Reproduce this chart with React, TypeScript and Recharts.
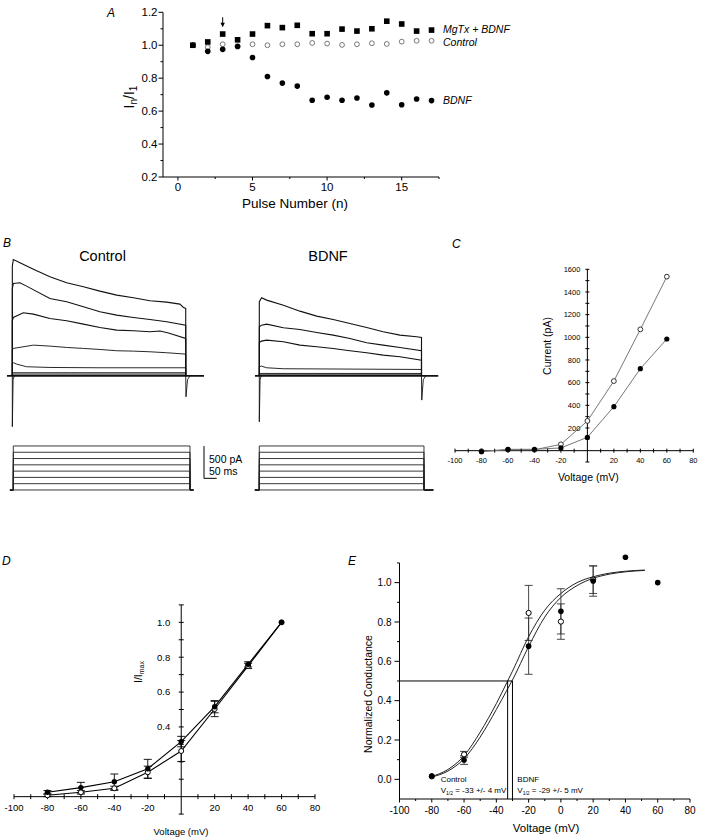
import React from 'react'
import { ComposedChart, Line, Scatter, XAxis, YAxis, ErrorBar, ReferenceLine } from 'recharts'

const FONT = '"Liberation Sans", Arial, Helvetica, sans-serif'

// ---- Panel A: normalised current per pulse ----
const pulses = [1, 2, 3, 4, 5, 6, 7, 8, 9, 10, 11, 12, 13, 14, 15, 16, 17]
const mgtxA = [1.0, 1.02, 1.068, 1.033, 1.068, 1.119, 1.107, 1.121, 1.07, 1.07, 1.098, 1.086, 1.1, 1.146, 1.129, 1.086, 1.092]
const controlA = [1.0, 0.988, 1.006, 0.995, 1.006, 1.0, 1.006, 1.006, 1.014, 1.01, 1.002, 1.006, 1.012, 1.008, 1.022, 1.027, 1.027]
const bdnfA = [1.0, 0.963, 0.975, 0.992, 0.926, 0.81, 0.77, 0.752, 0.666, 0.684, 0.666, 0.68, 0.637, 0.711, 0.639, 0.674, 0.664]
const arrowA = { x: 3, y: 1.109 }
const aXMajor = [0, 5, 10, 15]
const aXMinor = [2.5, 7.5, 12.5, 17.5]
const aYMajor = [0.2, 0.4, 0.6, 0.8, 1.0, 1.2]
const aYMinor = [0.3, 0.5, 0.7, 0.9, 1.1]

// ---- Panel B: current traces (ms, pA) ----
const ctrlDur = 683
const bdnfDur = 639
const ctrlTraces = [
  [[0, 1700], [4, 1803], [30, 1752], [83, 1653], [148, 1535], [214, 1442], [280, 1380], [345, 1312], [411, 1250], [477, 1209], [542, 1163], [608, 1142], [660, 1111], [674, 1059], [683, 1044]],
  [[0, 1350], [4, 1431], [30, 1442], [56, 1390], [148, 1199], [214, 1147], [280, 1070], [345, 992], [411, 940], [477, 904], [542, 873], [608, 837], [683, 785]],
  [[0, 850], [4, 904], [43, 977], [83, 956], [148, 889], [214, 853], [280, 801], [345, 749], [411, 708], [477, 698], [542, 682], [582, 695], [615, 664], [683, 579]],
  [[0, 400], [4, 424], [83, 475], [148, 460], [214, 439], [280, 424], [345, 408], [411, 388], [477, 382], [542, 372], [608, 357], [683, 336]],
  [[0, 190], [4, 202], [17, 181], [56, 140], [148, 129], [345, 124], [683, 124]],
  [[0, 47], [683, 47]],
  [[0, 26], [683, 26]],
]
const bdnfTraces = [
  [[0, 1150], [9, 1209], [29, 1173], [95, 1095], [160, 1002], [226, 925], [291, 873], [357, 811], [423, 749], [488, 682], [554, 630], [620, 605], [639, 594]],
  [[0, 760], [9, 785], [29, 801], [95, 744], [160, 718], [226, 672], [291, 630], [357, 579], [423, 512], [488, 475], [554, 439], [639, 388]],
  [[0, 520], [9, 537], [29, 553], [95, 527], [160, 475], [226, 450], [291, 424], [357, 388], [423, 357], [488, 320], [554, 295], [639, 243]],
  [[0, 140], [9, 150], [29, 124], [95, 109], [639, 98]],
  [[0, 36], [639, 36]],
  [[0, 15], [639, 15]],
]
const ctrlBaseline = [[-21, 0], [755, 0]]
const bdnfBaseline = [[-17, 0], [705, 0]]
const ctrlOnset = [[0, 0], [0, -790], [3, -60], [8, 0]]
const ctrlOffset = [[683, 0], [684, -326], [690, -60], [700, 0]]
const bdnfOnset = [[0, 0], [0, -713], [3, -60], [8, 0]]
const bdnfOffset = [[639, 0], [640, -377], [646, -60], [656, 0]]
const scaleBar = [[755, -1090], [755, -1590], [805, -1590]]

// voltage protocol (mV)
const holding = -80
const stepLevels = [-80, -60, -40, -20, 0, 20, 40, 60]
const ctrlStep = { lead: -13, dur: 683, tail: 696 }
const bdnfStep = { lead: -17, dur: 640, tail: 676 }

// ---- Panel C: I-V (pA) ----
const ivV = [-80, -60, -40, -20, 0, 20, 40, 60]
const cControl = [-5, 8, 8, 56, 262, 614, 1070, 1535]
const cBdnf = [-9, 12, 12, 24, 118, 388, 723, 985]
const cXTicks = [-100, -90, -80, -70, -60, -50, -40, -30, -20, -10, 10, 20, 30, 40, 50, 60, 70, 80]
const cXLabels = [-100, -80, -60, -40, -20, 20, 40, 60, 80]
const cYTicks = [-100, 100, 200, 300, 400, 500, 600, 700, 800, 900, 1000, 1100, 1200, 1300, 1400, 1500, 1600]
const cYLabels = [200, 400, 600, 800, 1000, 1200, 1400, 1600]

// ---- Panel D: normalised I-V ----
const dControl = [0.008, 0.025, 0.048, 0.14, 0.262, 0.503, 0.75, 1.0]
const dControlErr = [0.008, 0.01, 0.012, 0.035, 0.06, 0.044, 0.015, 0]
const dBdnf = [0.025, 0.052, 0.086, 0.16, 0.316, 0.516, 0.759, 1.0]
const dBdnfErr = [0.01, 0.03, 0.044, 0.054, 0.03, 0.035, 0.015, 0]
const dYTicks = [-0.1, 0.1, 0.2, 0.3, 0.4, 0.5, 0.6, 0.7, 0.8, 0.9, 1.0, 1.1]
const dYLabels = [0.4, 0.6, 0.8, 1.0]

// ---- Panel E: conductance ----
const eBdnfV = [-80, -60, -20, 0, 20, 40, 60]
const eBdnf = [0.017, 0.098, 0.677, 0.854, 1.008, 1.129, 1.0]
const eBdnfErr = [0, 0.022, 0.143, 0.115, 0.077, 0, 0]
const eControlV = [-80, -60, -20, 0, 20]
const eControl = [0.015, 0.127, 0.846, 0.802, 1.015]
const eControlErr = [0, 0.015, 0.14, 0.09, 0.07]
const fitV = [-80, -70, -60, -50, -40, -33, -30, -20, -10, 0, 10, 20, 30, 40, 52]
const fitControl = [0.015, 0.05, 0.12, 0.24, 0.385, 0.5, 0.55, 0.725, 0.86, 0.945, 1.0, 1.03, 1.048, 1.058, 1.064]
const fitBdnf = [0.012, 0.042, 0.105, 0.215, 0.355, 0.46, 0.505, 0.675, 0.825, 0.925, 0.985, 1.022, 1.043, 1.055, 1.062]
const vHalf = [-33, -30]
const eYTop = 1.1
const eXMajor = [-100, -80, -60, -40, -20, 0, 20, 40, 60, 80]
const eXMinor = [-90, -70, -50, -30, -10, 10, 30, 50, 70]
const eYMajor = [0, 0.2, 0.4, 0.6, 0.8, 1.0]
const eYMinor = [0.1, 0.3, 0.5, 0.7, 0.9, 1.1]

const rows = (xs: number[], ys: number[]) => xs.map((x, i) => ({ x, y: ys[i] }))
const rowsE = (xs: number[], ys: number[], es: number[]) => xs.map((x, i) => ({ x, y: ys[i], e: es[i] }))
const pairs = (ps: number[][]) => ps.map(([x, y]) => ({ x, y }))
const isIn = (list: number[], v: number) => list.some(l => Math.abs(l - v) < 1e-6)
const sorted = (a: number[], b: number[]) => [...a, ...b].sort((p, q) => p - q)

function bottomTick(major: number[], fmt: (v: number) => string, fs: number, len: number, minorLen: number, dy: number) {
  return (p: any) => {
    const v = p.payload.value
    const m = isIn(major, v)
    return (
      <g>
        <line x1={p.x} x2={p.x} y1={p.y} y2={p.y + (m ? len : minorLen)} stroke="#000" />
        {m && <text x={p.x} y={p.y + dy} textAnchor="middle" fontSize={fs} fontFamily={FONT} fill="#000">{fmt(v)}</text>}
      </g>
    )
  }
}

function leftTick(major: number[], fmt: (v: number) => string, fs: number, len: number, minorLen: number, dx: number) {
  return (p: any) => {
    const v = p.payload.value
    const m = isIn(major, v)
    return (
      <g>
        <line x1={p.x - (m ? len : minorLen)} x2={p.x} y1={p.y} y2={p.y} stroke="#000" />
        {m && <text x={p.x - dx} y={p.y + fs * 0.36} textAnchor="end" fontSize={fs} fontFamily={FONT} fill="#000">{fmt(v)}</text>}
      </g>
    )
  }
}

// ticks for axes crossing at the origin, placed through the chart scales
function crossXTick(labels: number[], fs: number, dy: number, len: number) {
  return (p: any) => (
    <g>
      <line x1={p.cx} x2={p.cx} y1={p.cy - len} y2={p.cy + len} stroke="#000" />
      {isIn(labels, p.payload.x) && (
        <text x={p.cx} y={p.cy + dy} textAnchor="middle" fontSize={fs} fontFamily={FONT} fill="#000">{String(p.payload.x)}</text>
      )}
    </g>
  )
}

function crossYTick(labels: number[], fmt: (v: number) => string, fs: number, dx: number, len: number) {
  return (p: any) => (
    <g>
      <line x1={p.cx - len} x2={p.cx + len} y1={p.cy} y2={p.cy} stroke="#000" />
      {isIn(labels, p.payload.y) && (
        <text x={p.cx - dx} y={p.cy + fs * 0.36} textAnchor="end" fontSize={fs} fontFamily={FONT} fill="#000">{fmt(p.payload.y)}</text>
      )}
    </g>
  )
}

const dot = (r: number, fill: string, stroke: string, sw = 1) => (p: any) => (
  <circle cx={p.cx} cy={p.cy} r={r} fill={fill} stroke={stroke} strokeWidth={sw} />
)
const square = (s: number) => (p: any) => <rect x={p.cx - s / 2} y={p.cy - s / 2} width={s} height={s} fill="#000" />
const arrowDown = (p: any) => (
  <g>
    <line x1={p.cx} x2={p.cx} y1={p.cy - 10} y2={p.cy - 3} stroke="#000" />
    <path d={`M${p.cx - 2.2},${p.cy - 4.5} L${p.cx + 2.2},${p.cy - 4.5} L${p.cx},${p.cy} Z`} fill="#000" />
  </g>
)

const label = (x: number, y: number, s: string, fs: number, extra: any = {}) => (
  <text x={x} y={y} fontSize={fs} fontFamily={FONT} fill="#000" {...extra}>{s}</text>
)

function PanelA() {
  return (
    <div style={{ position: 'absolute', left: 90, top: 0 }}>
      <ComposedChart width={460} height={215} margin={{ top: 12.3, right: 111, bottom: 13, left: 33 }}>
        <XAxis type="number" dataKey="x" domain={[-1, 17.5]} ticks={sorted(aXMajor, aXMinor)} interval={0}
          tickSize={0} tickMargin={0} tickLine={false} axisLine={{ stroke: '#000' }} height={25}
          tick={bottomTick(aXMajor, v => String(v), 11.5, 3.5, 2, 14)} />
        <YAxis type="number" dataKey="y" domain={[0.2, 1.2]} ticks={sorted(aYMajor, aYMinor)} interval={0}
          tickSize={0} tickMargin={0} tickLine={false} axisLine={{ stroke: '#000' }} width={40}
          tick={leftTick(aYMajor, v => v.toFixed(1), 11.5, 4.5, 2.5, 5.5)} />
        <Scatter data={rows(pulses, controlA)} dataKey="y" shape={dot(2.4, '#fff', '#777')} isAnimationActive={false} />
        <Scatter data={rows(pulses, bdnfA)} dataKey="y" shape={dot(2.8, '#000', '#000', 0)} isAnimationActive={false} />
        <Scatter data={rows(pulses, mgtxA)} dataKey="y" shape={square(5.6)} isAnimationActive={false} />
        <Scatter data={[arrowA]} dataKey="y" shape={arrowDown} isAnimationActive={false} />
        {label(17, 17, 'A', 12, { fontStyle: 'italic' })}
        {label(353, 33, 'MgTx + BDNF', 10.5, { fontStyle: 'italic' })}
        {label(353, 46, 'Control', 10.5, { fontStyle: 'italic' })}
        {label(353, 104, 'BDNF', 10.5, { fontStyle: 'italic' })}
        <text transform="translate(44,97) rotate(-90)" textAnchor="middle" fontSize={14} fontFamily={FONT} fill="#000">
          I<tspan fontSize={10} dy={3}>n</tspan><tspan dy={-3}>/I</tspan><tspan fontSize={10} dy={3}>1</tspan>
        </text>
        {label(205, 207.5, 'Pulse Number (n)', 13.5, { textAnchor: 'middle' })}
      </ComposedChart>
    </div>
  )
}

const traceRows = (pts: number[][], dur: number) => pairs([[0, 0], ...pts, [dur, 0]])

function TraceChart(props: { left: number; width: number; marginLeft: number; marginRight: number; domain: [number, number]; traces: number[][][]; dur: number; baseline: number[][]; onset: number[][]; offset: number[][]; title: string; titleX: number; extra?: React.ReactNode }) {
  const p = props
  return (
    <div style={{ position: 'absolute', left: p.left, top: 230 }}>
      <ComposedChart width={p.width} height={260} margin={{ top: 20, right: p.marginRight, bottom: 7.8, left: p.marginLeft }}>
        <XAxis type="number" dataKey="x" domain={p.domain} hide />
        <YAxis type="number" dataKey="y" domain={[-1650, 1950]} hide />
        <Line data={pairs(p.baseline)} dataKey="y" stroke="#111" strokeWidth={1.8} dot={false} isAnimationActive={false} />
        <Line data={pairs(p.onset)} dataKey="y" stroke="#111" strokeWidth={0.9} dot={false} isAnimationActive={false} />
        <Line data={pairs(p.offset)} dataKey="y" stroke="#111" strokeWidth={0.9} dot={false} isAnimationActive={false} />
        {p.traces.map((t, i) => (
          <Line key={i} data={traceRows(t, p.dur)} dataKey="y" stroke="#111" strokeWidth={i < 3 ? 1.1 : 0.9} dot={false} isAnimationActive={false} />
        ))}
        {p.extra}
        {label(p.titleX, 30.5, p.title, 14.5, { textAnchor: 'middle' })}
      </ComposedChart>
    </div>
  )
}

const stepRows = (level: number, s: { lead: number; dur: number; tail: number }) =>
  pairs([[s.lead, holding], [0, holding], [0, level], [s.dur, level], [s.dur, holding], [s.tail, holding]])

function StepChart(props: { left: number; width: number; marginLeft: number; marginRight: number; domain: [number, number]; step: { lead: number; dur: number; tail: number } }) {
  const p = props
  return (
    <div style={{ position: 'absolute', left: p.left, top: 430 }}>
      <ComposedChart width={p.width} height={75} margin={{ top: 10, right: p.marginRight, bottom: 10, left: p.marginLeft }}>
        <XAxis type="number" dataKey="x" domain={p.domain} hide />
        <YAxis type="number" dataKey="y" domain={[-96, 79]} hide />
        {stepLevels.map(l => (
          <Line key={l} data={stepRows(l, p.step)} dataKey="y" stroke="#222" strokeWidth={0.9} dot={false} isAnimationActive={false} />
        ))}
      </ComposedChart>
    </div>
  )
}

function PanelB() {
  const bar = [
    <Line key="sb" data={pairs(scaleBar)} dataKey="y" stroke="#000" strokeWidth={1} dot={false} isAnimationActive={false} />,
    <text key="t1" x={209} y={233} fontSize={10.5} fontFamily={FONT}>500 pA</text>,
    <text key="t2" x={209} y={245} fontSize={10.5} fontFamily={FONT}>50 ms</text>,
    <text key="t3" x={3} y={17} fontSize={12} fontStyle="italic" fontFamily={FONT}>B</text>,
  ]
  return (
    <>
      <TraceChart left={0} width={250} marginLeft={7} marginRight={30} domain={[-21, 818]} traces={ctrlTraces} dur={ctrlDur}
        baseline={ctrlBaseline} onset={ctrlOnset} offset={ctrlOffset} title="Control" titleX={102.5} extra={bar} />
      <TraceChart left={245} width={200} marginLeft={7} marginRight={5} domain={[-28.8, 711.9]} traces={bdnfTraces} dur={bdnfDur}
        baseline={bdnfBaseline} onset={bdnfOnset} offset={bdnfOffset} title="BDNF" titleX={83} />
      <StepChart left={0} width={210} marginLeft={8} marginRight={14} domain={[-20.5, 706.2]} step={ctrlStep} />
      <StepChart left={245} width={200} marginLeft={5} marginRight={5} domain={[-36.1, 702.3]} step={bdnfStep} />
    </>
  )
}

function PanelC() {
  return (
    <div style={{ position: 'absolute', left: 440, top: 230 }}>
      <ComposedChart width={261} height={290} margin={{ top: 39.3, right: 7.7, bottom: 58, left: 15 }}>
        <XAxis type="number" dataKey="x" domain={[-100, 80]} hide />
        <YAxis type="number" dataKey="y" domain={[-100, 1600]} hide />
        <ReferenceLine x={0} stroke="#000" />
        <ReferenceLine y={0} stroke="#000" />
        <Scatter data={cXTicks.map(x => ({ x, y: 0 }))} dataKey="y" shape={crossXTick(cXLabels, 7.5, 12, 2)} isAnimationActive={false} />
        <Scatter data={cYTicks.map(y => ({ x: 0, y }))} dataKey="y" shape={crossYTick(cYLabels, v => String(v), 7.5, 7, 2)} isAnimationActive={false} />
        <Line data={rows(ivV, cControl)} dataKey="y" stroke="#777" strokeWidth={1} dot={false} isAnimationActive={false} />
        <Line data={rows(ivV, cBdnf)} dataKey="y" stroke="#777" strokeWidth={1} dot={false} isAnimationActive={false} />
        <Scatter data={rows(ivV, cControl)} dataKey="y" shape={dot(2.4, '#fff', '#333')} isAnimationActive={false} />
        <Scatter data={rows(ivV, cBdnf)} dataKey="y" shape={dot(2.6, '#000', '#000', 0)} isAnimationActive={false} />
        {label(12, 18, 'C', 12, { fontStyle: 'italic' })}
        <text transform="translate(111,116) rotate(-90)" textAnchor="middle" fontSize={10.5} fontFamily={FONT}>Current (pA)</text>
        {label(148.3, 251, 'Voltage (mV)', 10.5, { textAnchor: 'middle' })}
      </ComposedChart>
    </div>
  )
}

function PanelD() {
  return (
    <div style={{ position: 'absolute', left: 0, top: 545 }}>
      <ComposedChart width={340} height={294} margin={{ top: 59.9, right: 25, bottom: 24.9, left: 14 }}>
        <XAxis type="number" dataKey="x" domain={[-100, 80]} hide />
        <YAxis type="number" dataKey="y" domain={[-0.1, 1.1]} hide />
        <ReferenceLine x={0} stroke="#000" />
        <ReferenceLine y={0} stroke="#000" />
        <Scatter data={cXTicks.map(x => ({ x, y: 0 }))} dataKey="y" shape={crossXTick(cXLabels, 9.5, 14, 2.5)} isAnimationActive={false} />
        <Scatter data={dYTicks.map(y => ({ x: 0, y }))} dataKey="y" shape={crossYTick(dYLabels, v => v.toFixed(1), 9.5, 11, 2.5)} isAnimationActive={false} />
        <Line data={rows(ivV, dControl)} dataKey="y" stroke="#000" strokeWidth={1.1} dot={false} isAnimationActive={false} />
        <Line data={rows(ivV, dBdnf)} dataKey="y" stroke="#000" strokeWidth={1.1} dot={false} isAnimationActive={false} />
        <Scatter data={rowsE(ivV, dControl, dControlErr)} dataKey="y" shape={dot(2.5, '#fff', '#000')} isAnimationActive={false}>
          <ErrorBar dataKey="e" direction="y" width={4} stroke="#000" strokeWidth={0.9} />
        </Scatter>
        <Scatter data={rowsE(ivV, dBdnf, dBdnfErr)} dataKey="y" shape={dot(2.7, '#000', '#000', 0)} isAnimationActive={false}>
          <ErrorBar dataKey="e" direction="y" width={4} stroke="#000" strokeWidth={0.9} />
        </Scatter>
        {label(2, 20, 'D', 12, { fontStyle: 'italic' })}
        <text transform="translate(142,127) rotate(-90)" textAnchor="middle" fontSize={10.5} fontFamily={FONT}>
          I/I<tspan fontSize={7} dy={2}>max</tspan>
        </text>
        {label(181, 290, 'Voltage (mV)', 9.5, { textAnchor: 'middle' })}
      </ComposedChart>
    </div>
  )
}

function PanelE() {
  // the axis line stops at 1.1; the domain leaves room for the 40 mV point above it
  return (
    <div style={{ position: 'absolute', left: 340, top: 540 }}>
      <ComposedChart width={361} height={299} margin={{ top: 15.1, right: 11, bottom: 10, left: 19.5 }}>
        <XAxis type="number" dataKey="x" domain={[-100, 80]} ticks={sorted(eXMajor, eXMinor)} interval={0}
          tickSize={0} tickMargin={0} tickLine={false} axisLine={{ stroke: '#000' }} height={30}
          tick={bottomTick(eXMajor, v => String(v), 10, 3.5, 2, 14.5)} />
        <YAxis type="number" dataKey="y" domain={[-0.1, 1.14]} ticks={sorted(eYMajor, eYMinor)} interval={0}
          tickSize={0} tickMargin={0} tickLine={false} axisLine={false} width={40}
          tick={leftTick(eYMajor, v => v.toFixed(1), 10, 5, 2.5, 8)} />
        <ReferenceLine segment={[{ x: -100, y: -0.1 }, { x: -100, y: eYTop }]} stroke="#000" />
        <Line data={rows(fitV, fitControl)} dataKey="y" type="monotone" stroke="#222" strokeWidth={1} dot={false} isAnimationActive={false} />
        <Line data={rows(fitV, fitBdnf)} dataKey="y" type="monotone" stroke="#222" strokeWidth={1} dot={false} isAnimationActive={false} />
        <Line data={rows([-100, vHalf[1]], [0.5, 0.5])} dataKey="y" stroke="#000" strokeWidth={1} dot={false} isAnimationActive={false} />
        {vHalf.map(v => (
          <Line key={v} data={rows([v, v], [0.5, -0.1])} dataKey="y" stroke="#000" strokeWidth={1} dot={false} isAnimationActive={false} />
        ))}
        <Scatter data={rowsE(eControlV, eControl, eControlErr)} dataKey="y" shape={dot(2.6, '#fff', '#000')} isAnimationActive={false}>
          <ErrorBar dataKey="e" direction="y" width={4} stroke="#333" strokeWidth={0.9} />
        </Scatter>
        <Scatter data={rowsE(eBdnfV, eBdnf, eBdnfErr)} dataKey="y" shape={dot(2.8, '#000', '#000', 0)} isAnimationActive={false}>
          <ErrorBar dataKey="e" direction="y" width={4} stroke="#333" strokeWidth={0.9} />
        </Scatter>
        {label(8, 25, 'E', 12, { fontStyle: 'italic' })}
        <text transform="translate(31.5,154) rotate(-90)" textAnchor="middle" fontSize={10.5} fontFamily={FONT}>Normalized Conductance</text>
        {label(206, 291.5, 'Voltage (mV)', 11.5, { textAnchor: 'middle' })}
        {label(100.7, 241.7, 'Control', 8)}
        <text x={100.7} y={253} fontSize={8} fontFamily={FONT}>V<tspan fontSize={5} dy={1.5}>1/2</tspan><tspan dy={-1.5}> = -33 +/- 4 mV</tspan></text>
        {label(177.3, 241.7, 'BDNF', 8)}
        <text x={177.3} y={253} fontSize={8} fontFamily={FONT}>V<tspan fontSize={5} dy={1.5}>1/2</tspan><tspan dy={-1.5}> = -29 +/- 5 mV</tspan></text>
      </ComposedChart>
    </div>
  )
}

export default function App() {
  return (
    <div style={{ position: 'absolute', left: 0, top: 0, width: 701, height: 839, background: '#fff', overflow: 'hidden', fontFamily: FONT }}>
      <PanelA />
      <PanelB />
      <PanelC />
      <PanelD />
      <PanelE />
    </div>
  )
}
